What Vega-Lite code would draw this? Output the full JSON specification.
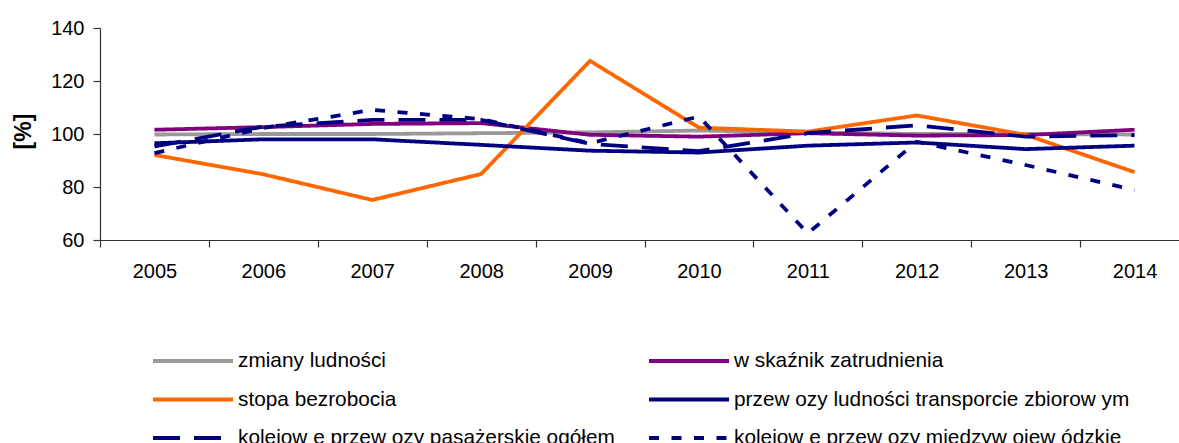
{
  "$schema": "https://vega.github.io/schema/vega-lite/v6.json",
  "autosize": {"type": "none"},
  "width": 1079,
  "height": 212,
  "padding": {"left": 100, "top": 28, "right": 0, "bottom": 203},
  "background": "white",
  "config": {
    "font": "Liberation Sans",
    "view": {"stroke": null},
    "axis": {"domainColor": "#333", "tickColor": "#333", "labelColor": "#000", "labelFontSize": 20, "labelFont": "Liberation Sans", "grid": false}
  },
  "data": {
    "values": [
      {"year": "2005", "series": "zmiany ludności", "value": 99.8},
      {"year": "2006", "series": "zmiany ludności", "value": 100},
      {"year": "2007", "series": "zmiany ludności", "value": 100},
      {"year": "2008", "series": "zmiany ludności", "value": 100.3},
      {"year": "2009", "series": "zmiany ludności", "value": 100.6},
      {"year": "2010", "series": "zmiany ludności", "value": 101.3},
      {"year": "2011", "series": "zmiany ludności", "value": 100.6},
      {"year": "2012", "series": "zmiany ludności", "value": 100},
      {"year": "2013", "series": "zmiany ludności", "value": 100},
      {"year": "2014", "series": "zmiany ludności", "value": 99.8},
      {"year": "2005", "series": "w skaźnik zatrudnienia", "value": 101.6},
      {"year": "2006", "series": "w skaźnik zatrudnienia", "value": 102.6},
      {"year": "2007", "series": "w skaźnik zatrudnienia", "value": 103.8},
      {"year": "2008", "series": "w skaźnik zatrudnienia", "value": 104.1},
      {"year": "2009", "series": "w skaźnik zatrudnienia", "value": 99.7},
      {"year": "2010", "series": "w skaźnik zatrudnienia", "value": 99.0},
      {"year": "2011", "series": "w skaźnik zatrudnienia", "value": 100.3},
      {"year": "2012", "series": "w skaźnik zatrudnienia", "value": 99.4},
      {"year": "2013", "series": "w skaźnik zatrudnienia", "value": 99.6},
      {"year": "2014", "series": "w skaźnik zatrudnienia", "value": 101.6},
      {"year": "2005", "series": "stopa bezrobocia", "value": 92.1},
      {"year": "2006", "series": "stopa bezrobocia", "value": 84.8},
      {"year": "2007", "series": "stopa bezrobocia", "value": 75.1},
      {"year": "2008", "series": "stopa bezrobocia", "value": 84.9},
      {"year": "2009", "series": "stopa bezrobocia", "value": 127.6},
      {"year": "2010", "series": "stopa bezrobocia", "value": 102.4},
      {"year": "2011", "series": "stopa bezrobocia", "value": 100.9},
      {"year": "2012", "series": "stopa bezrobocia", "value": 107.0},
      {"year": "2013", "series": "stopa bezrobocia", "value": 99.7},
      {"year": "2014", "series": "stopa bezrobocia", "value": 85.6},
      {"year": "2005", "series": "przew ozy ludności transporcie zbiorow ym", "value": 96.5},
      {"year": "2006", "series": "przew ozy ludności transporcie zbiorow ym", "value": 98.0},
      {"year": "2007", "series": "przew ozy ludności transporcie zbiorow ym", "value": 98.0},
      {"year": "2008", "series": "przew ozy ludności transporcie zbiorow ym", "value": 95.9},
      {"year": "2009", "series": "przew ozy ludności transporcie zbiorow ym", "value": 93.7},
      {"year": "2010", "series": "przew ozy ludności transporcie zbiorow ym", "value": 93.0},
      {"year": "2011", "series": "przew ozy ludności transporcie zbiorow ym", "value": 95.6},
      {"year": "2012", "series": "przew ozy ludności transporcie zbiorow ym", "value": 96.8},
      {"year": "2013", "series": "przew ozy ludności transporcie zbiorow ym", "value": 94.3},
      {"year": "2014", "series": "przew ozy ludności transporcie zbiorow ym", "value": 95.6},
      {"year": "2005", "series": "kolejow e przew ozy pasażerskie ogółem", "value": 95.3},
      {"year": "2006", "series": "kolejow e przew ozy pasażerskie ogółem", "value": 102.8},
      {"year": "2007", "series": "kolejow e przew ozy pasażerskie ogółem", "value": 105.3},
      {"year": "2008", "series": "kolejow e przew ozy pasażerskie ogółem", "value": 105.3},
      {"year": "2009", "series": "kolejow e przew ozy pasażerskie ogółem", "value": 96.3},
      {"year": "2010", "series": "kolejow e przew ozy pasażerskie ogółem", "value": 93.5},
      {"year": "2011", "series": "kolejow e przew ozy pasażerskie ogółem", "value": 100.3},
      {"year": "2012", "series": "kolejow e przew ozy pasażerskie ogółem", "value": 103.3},
      {"year": "2013", "series": "kolejow e przew ozy pasażerskie ogółem", "value": 99.0},
      {"year": "2014", "series": "kolejow e przew ozy pasażerskie ogółem", "value": 99.6},
      {"year": "2005", "series": "kolejow e przew ozy międzyw ojew ódzkie", "value": 92.8},
      {"year": "2006", "series": "kolejow e przew ozy międzyw ojew ódzkie", "value": 102.3},
      {"year": "2007", "series": "kolejow e przew ozy międzyw ojew ódzkie", "value": 109.1},
      {"year": "2008", "series": "kolejow e przew ozy międzyw ojew ódzkie", "value": 105.6},
      {"year": "2009", "series": "kolejow e przew ozy międzyw ojew ódzkie", "value": 96.5},
      {"year": "2010", "series": "kolejow e przew ozy międzyw ojew ódzkie", "value": 106.6},
      {"year": "2011", "series": "kolejow e przew ozy międzyw ojew ódzkie", "value": 62.5},
      {"year": "2012", "series": "kolejow e przew ozy międzyw ojew ódzkie", "value": 97.1},
      {"year": "2013", "series": "kolejow e przew ozy międzyw ojew ódzkie", "value": 88.3},
      {"year": "2014", "series": "kolejow e przew ozy międzyw ojew ódzkie", "value": 78.9}
    ]
  },
  "mark": {"type": "line", "strokeWidth": 3.8, "clip": false},
  "encoding": {
    "x": {
      "field": "year", "type": "ordinal", "bandPosition": 0.5,
      "scale": {"type": "band", "range": [0, 1089], "paddingInner": 0, "paddingOuter": 0},
      "axis": {"title": null, "labelAngle": 0, "tickBand": "extent", "tickSize": 7, "labelPadding": 14, "domainWidth": 1.2, "tickWidth": 1.2}
    },
    "y": {
      "field": "value", "type": "quantitative",
      "scale": {"domain": [60, 140], "nice": false, "zero": false},
      "axis": {"values": [60, 80, 100, 120, 140], "title": "[%]", "titleFontSize": 23, "titleFontWeight": "bold", "titleColor": "#000", "titleX": -65, "titleY": 103, "titleAlign": "center", "titleBaseline": "bottom", "titleAngle": -90, "tickSize": 7, "labelPadding": 9, "domainWidth": 1.2, "tickWidth": 1.2}
    },
    "color": {
      "field": "series", "type": "nominal",
      "scale": {
        "domain": ["zmiany ludności", "stopa bezrobocia", "kolejow e przew ozy pasażerskie ogółem", "w skaźnik zatrudnienia", "przew ozy ludności transporcie zbiorow ym", "kolejow e przew ozy międzyw ojew ódzkie"],
        "range": ["#999999", "#FF6600", "#000080", "#800080", "#000080", "#000080"]
      },
      "legend": {
        "orient": "none", "legendX": 51, "legendY": 323, "columns": 2, "title": null,
        "symbolType": "stroke", "symbolSize": 6400, "clipHeight": 20, "symbolStrokeWidth": 3.8,
        "labelFontSize": 20.8, "labelFont": "Liberation Sans", "labelColor": "#000", "labelOffset": 3, "labelLimit": 0,
        "rowPadding": 17.5, "columnPadding": 32, "padding": 0
      }
    },
    "strokeDash": {
      "field": "series", "type": "nominal",
      "scale": {
        "domain": ["zmiany ludności", "stopa bezrobocia", "kolejow e przew ozy pasażerskie ogółem", "w skaźnik zatrudnienia", "przew ozy ludności transporcie zbiorow ym", "kolejow e przew ozy międzyw ojew ódzkie"],
        "range": [[1, 0], [1, 0], [27, 14], [1, 0], [1, 0], [10, 12.5]]
      }
    }
  }
}
